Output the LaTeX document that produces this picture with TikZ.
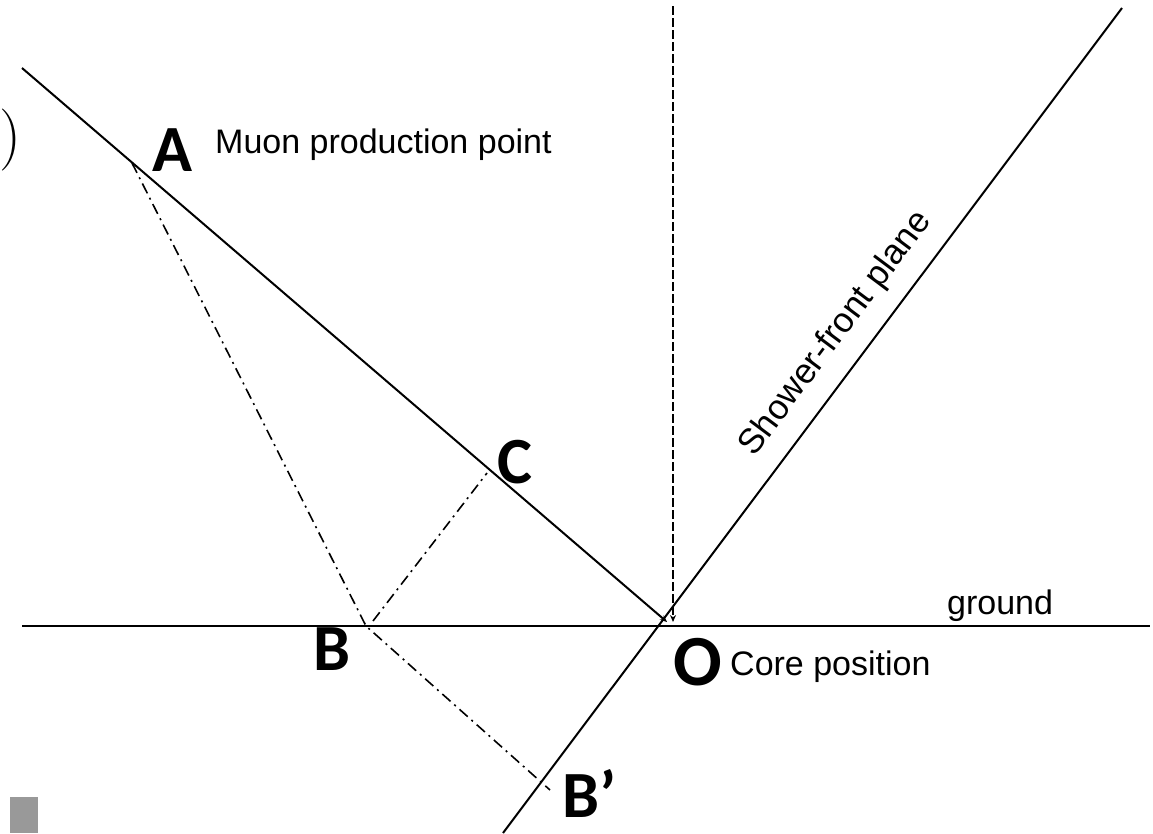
\documentclass[tikz,border=0pt]{standalone}
\usepackage{fontspec}
\newfontfamily\sanslabel{Liberation Sans}
\newfontfamily\letterfont{Carlito}
\usepackage{tikz}
\usetikzlibrary{arrows.meta, positioning, calc}

\begin{document}
\begin{tikzpicture}[x=1pt, y=-1pt,
    axisline/.style={line width=2pt},
    projline/.style={line width=1.6pt, dash pattern=on 11pt off 5pt on 2pt off 5pt},
    vertline/.style={line width=1.4pt, dash pattern=on 9pt off 3pt},
    ptlabel/.style={font=\fontsize{66}{66}\selectfont\letterfont\bfseries, inner sep=0pt},
    textlabel/.style={font=\fontsize{34}{36}\selectfont\sanslabel, inner sep=0pt, anchor=base west}]
      \useasboundingbox (0,0) rectangle (1153,833);

      % points
      \coordinate (A) at (132,163);
      \coordinate (B) at (366,626);
      \coordinate (C) at (487,473);
      \coordinate (Bp) at (550,790);
      \coordinate (O) at (667,622);
      \coordinate (muonstart) at (22,68);
      \coordinate (groundL) at (22,626);
      \coordinate (groundR) at (1150,626);
      \coordinate (planetop) at (1122,8);
      \coordinate (planebot) at (503,833);
      \coordinate (verttop) at (673,6);
      \coordinate (vertbot) at (673,622);

      % lines
      \draw[axisline] (groundL) -- (groundR);
      \draw[axisline, -{Stealth[length=7pt, width=6pt]}] (muonstart) -- (O);
      \draw[axisline] (planetop) -- (planebot);
      \draw[vertline, -{Stealth[length=7pt, width=6pt]}] (verttop) -- (vertbot);
      \draw[projline] (A) -- (B) -- (Bp);
      \draw[projline] ($(B)+(7,-5)$) -- (C);

      % labels
      \node[ptlabel] (labA) at (172,150) {A};
      \node[ptlabel] (labC) at (515,462) {C};
      \node[ptlabel] (labB) at (332,649) {B};
      \node[ptlabel, font=\fontsize{72}{72}\selectfont\letterfont\bfseries] (labO) at (698,662) {O};
      \node[ptlabel] (labBp) at (589,793) {B’};
      \node[textlabel] (muon) at (215,153) {Muon production point};
      \node[textlabel] (core) at (730,675) {Core position};
      \node[textlabel] (ground) at (947,614) {ground};
      \node[font=\fontsize{35}{36}\selectfont\sanslabel, inner sep=0pt, rotate=53.2] (plane) at (836,334) {Shower-front plane};

      % leftovers at the picture border
      \node[font=\fontsize{62}{62}\selectfont\rmfamily, inner sep=0pt] (paren) at (10,140) {)};
      \fill[black!40] (10,797) rectangle (38,833);
    \end{tikzpicture}
\end{document}
